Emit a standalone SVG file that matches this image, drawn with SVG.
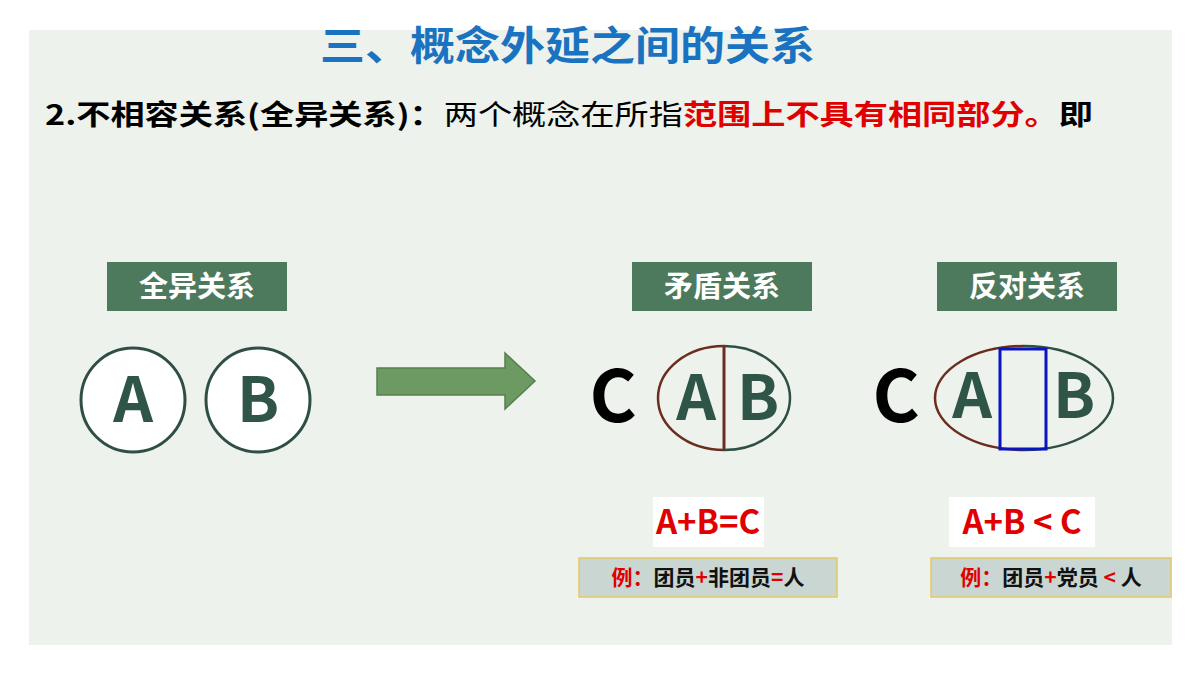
<svg xmlns="http://www.w3.org/2000/svg" width="1200" height="675" viewBox="0 0 1200 675">
<style>
text{font-family:"Noto Sans CJK SC","Noto Sans",sans-serif;font-weight:bold}
.lbl{fill:#fff;font-size:29px}
.lbox{fill:#4d7a5c}
.big{fill:#2f5548;font-size:62px;text-anchor:middle}
.c{fill:#000;font-size:72px;text-anchor:middle}
.eq{fill:#e00000;font-size:33px;text-anchor:middle}
.ex{font-size:21px}
.exbox{fill:#c9d6d1;stroke:#e6c766;stroke-width:1.5}
</style>
<rect width="1200" height="675" fill="#fff"/>
<rect x="29" y="30" width="1143" height="615" fill="#eef2ec"/>
<text x="320" y="60" fill="#1a73c0" font-size="40" textLength="495" lengthAdjust="spacingAndGlyphs">三、概念外延之间的关系</text>
<text x="45" y="125" font-size="28" textLength="1048" lengthAdjust="spacingAndGlyphs"><tspan fill="#000">2.不相容关系(全异关系)：</tspan><tspan fill="#000" font-weight="normal">两个概念在所指</tspan><tspan fill="#e00000">范围上不具有相同部分。</tspan><tspan fill="#000">即</tspan></text>
<g id="label1"><rect class="lbox" x="107" y="262" width="180" height="49"/><text class="lbl" x="197" y="297" text-anchor="middle">全异关系</text></g>
<g id="label2"><rect class="lbox" x="632" y="262" width="180" height="49"/><text class="lbl" x="722" y="297" text-anchor="middle">矛盾关系</text></g>
<g id="label3"><rect class="lbox" x="937" y="262" width="180" height="49"/><text class="lbl" x="1027" y="297" text-anchor="middle">反对关系</text></g>
<g id="circleA"><circle cx="133" cy="400" r="52" fill="#fff" stroke="#2f4f45" stroke-width="3"/><text class="big" x="133" y="422">A</text></g>
<g id="circleB"><circle cx="258" cy="400" r="52" fill="#fff" stroke="#2f4f45" stroke-width="3"/><text class="big" x="258" y="422">B</text></g>
<g id="connectors"><path d="M377 368 H505 V353 L535 381 L505 409 V395 H377 Z" fill="#6d9a62" stroke="#557f4c" stroke-width="1.5"/></g>
<g id="contradict">
<text class="c" x="613" y="422">C</text>
<path d="M724 346 A66 52 0 0 0 724 450" fill="none" stroke="#6b2e1e" stroke-width="2.5"/>
<path d="M724 346 A66 52 0 0 1 724 450" fill="none" stroke="#2f4f45" stroke-width="2.5"/>
<line x1="724" y1="346" x2="724" y2="450" stroke="#6b2e1e" stroke-width="3"/>
<text class="big" x="696" y="420">A</text><text class="big" x="758" y="420">B</text>
<rect x="653" y="497" width="111" height="50" fill="#fff"/>
<text class="eq" x="708" y="534">A+B=C</text>
<rect class="exbox" x="579" y="558" width="258" height="39"/>
<text class="ex" x="708" y="585" text-anchor="middle"><tspan fill="#e00000">例：</tspan><tspan fill="#111">团员</tspan><tspan fill="#e00000">+</tspan><tspan fill="#111">非团员</tspan><tspan fill="#e00000">=</tspan><tspan fill="#111">人</tspan></text>
</g>
<g id="contrary">
<text class="c" x="896" y="422">C</text>
<path d="M1024 346 A89 52 0 0 0 1024 450" fill="none" stroke="#6b2e1e" stroke-width="2.5"/>
<path d="M1024 346 A89 52 0 0 1 1024 450" fill="none" stroke="#2f4f45" stroke-width="2.5"/>
<text class="big" x="972" y="418">A</text><text class="big" x="1074" y="418">B</text>
<rect x="1000" y="349" width="46" height="100" fill="none" stroke="#0a14c0" stroke-width="3"/>
<rect x="949" y="497" width="146" height="50" fill="#fff"/>
<text class="eq" x="1022" y="534">A+B &lt; C</text>
<rect class="exbox" x="931" y="558" width="240" height="39"/>
<text class="ex" x="1051" y="585" text-anchor="middle"><tspan fill="#e00000">例：</tspan><tspan fill="#111">团员</tspan><tspan fill="#e00000">+</tspan><tspan fill="#111">党员</tspan><tspan fill="#e00000"> &lt; </tspan><tspan fill="#111">人</tspan></text>
</g>
</svg>
